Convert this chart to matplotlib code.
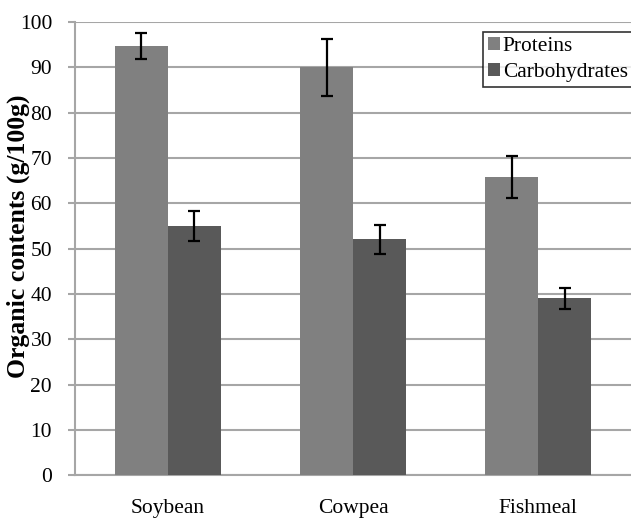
import numpy as np
import matplotlib
matplotlib.use("Agg")
import matplotlib.pyplot as plt

plt.rcParams['font.family'] = ['Liberation Serif', 'DejaVu Serif']

# organic contents per feed source
feeds = ["Soybean", "Cowpea", "Fishmeal"]
proteins = [94.7, 90.0, 65.8]
proteins_err = [2.9, 6.3, 4.7]
carbs = [55.0, 52.1, 39.0]
carbs_err = [3.3, 3.2, 2.4]
yticks = [0, 10, 20, 30, 40, 50, 60, 70, 80, 90, 100]

grid_col = "#a6a6a6"

fig = plt.figure(figsize=(6.31, 5.2), dpi=100)
ax = fig.add_axes([0.1189, 0.086, 0.8811, 0.8717])

x = np.arange(len(feeds))
w = 0.286
err_kw = dict(ecolor="black", elinewidth=1.6, capsize=4.5, capthick=1.6)
ax.bar(x - w / 2, proteins, w, yerr=proteins_err, color="#808080",
       label="Proteins", error_kw=err_kw, zorder=3)
ax.bar(x + w / 2, carbs, w, yerr=carbs_err, color="#595959",
       label="Carbohydrates", error_kw=err_kw, zorder=3)

ax.set_xlim(-0.5, 2.5)
ax.set_ylim(0, 100)
ax.set_yticks(yticks)
ax.set_xticks(x)
ax.set_xticklabels(feeds, fontsize=15.5)
ax.tick_params(axis="y", labelsize=15.5, length=5, width=1.5, color=grid_col, pad=11.5)
ax.tick_params(axis="x", length=0, pad=17)
ax.yaxis.grid(True, color=grid_col, linewidth=1.5, zorder=0)
ax.set_axisbelow(True)

for s in ["top", "right"]:
    ax.spines[s].set_visible(False)
for s in ["left", "bottom"]:
    ax.spines[s].set_color(grid_col)
    ax.spines[s].set_linewidth(1.5)

# bold axis title sits over the tick labels, slightly above the axes centre
fig.text(18 / 631, 1 - 236 / 520, "Organic contents (g/100g)", rotation=90,
         fontsize=18.5, fontweight="bold", ha="center", va="center")

leg = ax.legend(loc="upper left", bbox_to_anchor=(0.733, 0.978), fontsize=15.4,
                frameon=True, fancybox=False, handlelength=0.55, handleheight=0.55,
                handletextpad=0.15, borderpad=0.25, labelspacing=0.3, borderaxespad=0)
leg.get_frame().set_edgecolor("black")
leg.get_frame().set_linewidth(1.2)

fig.savefig("out.png", dpi=100)
